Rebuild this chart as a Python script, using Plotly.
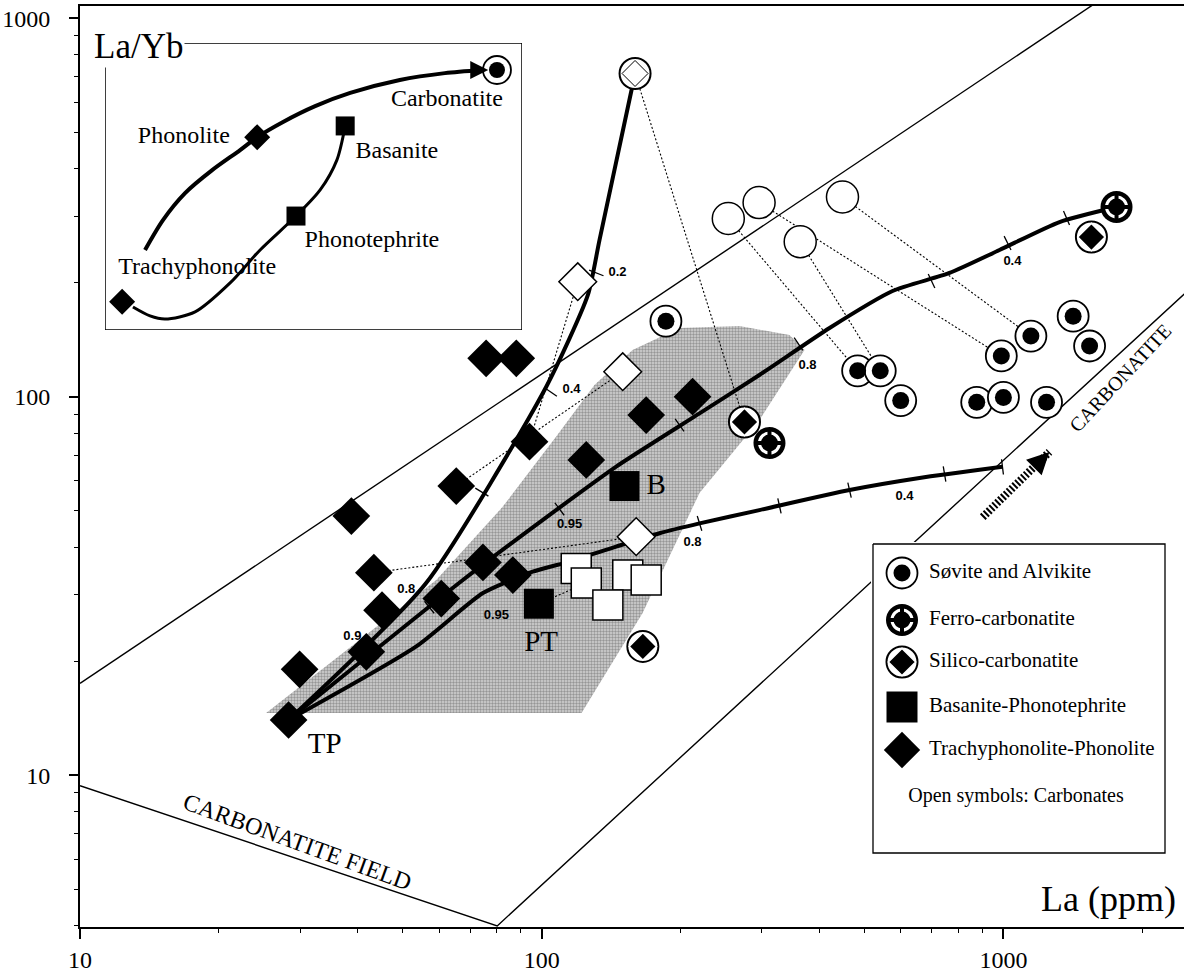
import numpy as np
import plotly.graph_objects as go

SERIF = "Liberation Serif, Times New Roman, serif"
SANS = "Liberation Sans, Arial, sans-serif"

# ---------------- sample data: La (ppm) vs La/Yb ----------------
# Trachyphonolite-Phonolite whole rocks
tp_la = [28.3, 29.9, 41.7, 45.1, 43.3, 38.7, 65.3, 94.1, 60.6, 74.6, 86.6, 124.9, 168.4, 212.2, 75.8, 88.1]
tp_layb = [14.0, 19.05, 21.2, 27.3, 34.3, 48.4, 58.1, 76.1, 29.3, 36.5, 33.8, 68.1, 89.5, 100.1, 126.4, 126.4]
# Basanite-Phonotephrite whole rocks (B, PT)
bp_la = [151.1, 98.6]
bp_layb = [58.1, 28.4]
# carbonates (open symbols)
bp_carb_la = [118.8, 124.9, 153.6, 139.1, 168.4]
bp_carb_layb = [35.2, 32.2, 33.8, 28.2, 32.8]
tp_carb_la = [119.7, 149.8, 160.2]
tp_carb_layb = [201.4, 116.5, 42.7]
sil_carb_la = [159.3]
sil_carb_layb = [714.9]
sov_carb_la = [253.6, 295.7, 363.0, 448.2]
sov_carb_layb = [295.9, 326.0, 256.9, 337.2]
# carbonatites
sov_la = [185.8, 483.4, 541.1, 599.2, 875.4, 1000.0, 1240.0, 989.7, 1147.0, 1416.0, 1537.0]
sov_layb = [158.4, 117.1, 117.1, 97.7, 96.7, 99.6, 96.7, 128.2, 144.7, 163.3, 136.2]
ferro_la = [1758.0, 311.4]
ferro_layb = [317.3, 75.5]
silico_la = [1551.0, 274.9, 165.6]
silico_layb = [264.3, 85.8, 21.9]

# tie lines carbonate -> host rock
tie_a_la = [159.3, 119.7, 149.8, 160.2, 124.9, 253.6, 295.7, 363.0, 448.2]
tie_a_layb = [714.9, 201.4, 116.5, 42.7, 32.2, 295.9, 326.0, 256.9, 337.2]
tie_b_la = [274.9, 94.1, 65.3, 43.3, 98.6, 483.4, 989.7, 541.1, 1147.0]
tie_b_layb = [85.8, 76.1, 58.1, 34.3, 28.4, 117.1, 128.2, 117.1, 144.7]

# mixing curves from TP
mix1_la = [28.3, 56.2, 102.3, 125.9, 133.4, 159.3]
mix1_layb = [14.0, 32.2, 106.3, 185.8, 259.5, 714.9]
mix2_la = [28.3, 67.5, 100.6, 145.0, 219.7, 296.2, 420.2, 575.2, 764.3, 980.6, 1323.0, 1758.0]
mix2_layb = [14.0, 32.8, 47.3, 65.4, 90.4, 114.2, 152.0, 190.3, 212.4, 244.2, 289.6, 317.3]
mix3_la = [28.3, 53.5, 74.6, 95.6, 114.9, 145.0, 179.9, 219.7, 296.2, 464.2, 658.1, 995.4]
mix3_layb = [14.0, 21.9, 30.3, 34.5, 36.7, 40.2, 43.6, 46.3, 50.2, 56.7, 61.0, 65.3]
# tick marks along the curves
tick1_la = [56.2, 74.2, 104.5, 131.3]
tick1_layb = [32.2, 56.0, 103.0, 212.4]
tick2_la = [28.3, 57.1, 109.3, 198.9, 359.9, 698.8, 1021.0, 1370.0]
tick2_layb = [14.0, 27.8, 50.5, 84.2, 137.9, 202.3, 254.8, 296.8]
tick3_la = [95.6, 119.5, 219.7, 327.3, 464.2, 745.6, 995.4]
tick3_layb = [34.5, 36.8, 46.3, 51.5, 56.7, 62.5, 65.3]
# curve fractions
frac_text = ["0.2", "0.4", "0.8", "0.9", "0.95", "0.95", "0.8", "0.4", "0.8", "0.4"]
frac_la = [146.0, 116.0, 50.9, 38.9, 114.9, 79.8, 376.5, 1046.0, 212.2, 610.6]
frac_layb = [212.4, 104.2, 30.9, 23.3, 45.9, 26.4, 120.6, 227.1, 41.1, 54.4]

# shaded field of the silicate rocks
field_la = [25.3, 122.0, 165.3, 219.7, 296.2, 370.9, 344.1, 268.2, 198.9, 157.3, 130.1, 107.5, 82.3, 59.1, 25.3]
field_layb = [14.6, 14.6, 26.8, 55.7, 86.8, 132.9, 145.7, 153.8, 152.0, 132.9, 107.5, 78.5, 51.2, 32.8, 14.6]

# carbonatite field boundaries
upper_la = [10.0, 2455.0]
upper_layb = [17.5, 1570.0]
lower_la = [10.0, 80.1, 2512.0]
lower_layb = [9.39, 4.0, 191.0]
# trend arrow (tail, head)
arrow_la = [902.0, 1258.0]
arrow_layb = [48.1, 71.5]

# rock labels
rock_text = ["TP", "PT", "B"]
rock_la = [33.9, 99.7, 177.0]
rock_layb = [12.0, 22.3, 57.9]

# ---------------- inset schematic (relative units 0-100) ----------------
ins_outer_u = [9.6, 13.9, 19.2, 25.7, 32.4, 36.5, 42.7, 50.4, 58.8, 70.7, 81.5, 90.4]
ins_outer_v = [27.9, 38.3, 47.7, 55.7, 62.7, 67.2, 72.5, 78.0, 82.6, 87.1, 89.5, 90.6]
ins_inner_u = [6.7, 10.8, 14.4, 21.6, 30.0, 37.2, 45.8, 51.6, 55.6, 57.6]
ins_inner_v = [8.0, 4.9, 3.8, 6.3, 16.4, 27.9, 39.7, 48.8, 59.2, 71.1]
ins_dia_u = [4.1, 36.5]
ins_dia_v = [9.8, 67.2]
ins_sq_u = [57.6, 45.8]
ins_sq_v = [71.1, 39.7]
ins_carb_u = [94.0]
ins_carb_v = [90.6]
ins_text = ["Carbonatite", "Phonolite", "Basanite", "Phonotephrite", "Trachyphonolite"]
ins_text_u = [82.0, 18.9, 70.0, 64.0, 22.1]
ins_text_v = [80.1, 67.2, 62.0, 31.0, 21.6]

# ---------------- legend entries ----------------
leg_labels = ["Søvite and Alvikite", "Ferro-carbonatite", "Silico-carbonatite",
              "Basanite-Phonotephrite", "Trachyphonolite-Phonolite"]
leg_rows = [29, 76, 118, 163, 206]

fig = go.Figure()


def add(x, y, xa="x", ya="y", **kw):
    fig.add_trace(go.Scatter(x=x, y=y, xaxis=xa, yaxis=ya, showlegend=False,
                             hoverinfo="skip", **kw))


def sovite(x, y, xa="x", ya="y", s=31, d=17):
    add(x, y, xa, ya, mode="markers",
        marker=dict(symbol="circle", size=s, color="white", line=dict(color="black", width=1.8)))
    add(x, y, xa, ya, mode="markers", marker=dict(symbol="circle", size=d, color="black"))


def ferro(x, y, xa="x", ya="y"):
    add(x, y, xa, ya, mode="markers", marker=dict(symbol="circle", size=32, color="black"))
    add(x, y, xa, ya, mode="markers",
        marker=dict(symbol="circle-open", size=20, color="white", line=dict(color="white", width=3)))
    add(x, y, xa, ya, mode="markers",
        marker=dict(symbol="cross-thin-open", size=20, color="black", line=dict(color="black", width=4)))


def silico(x, y, xa="x", ya="y", open_=False):
    add(x, y, xa, ya, mode="markers",
        marker=dict(symbol="circle", size=31, color="white", line=dict(color="black", width=2)))
    if open_:
        add(x, y, xa, ya, mode="markers",
            marker=dict(symbol="diamond", size=20, color="white", line=dict(color="black", width=1)))
    else:
        add(x, y, xa, ya, mode="markers",
            marker=dict(symbol="diamond", size=21, color="black", line=dict(color="white", width=1.5)))


# shaded field
add(field_la, field_layb, mode="lines", fill="toself", line=dict(width=0),
    fillcolor="#bdbdbd",
    fillpattern=dict(shape=".", fgcolor="#5a5a5a", bgcolor="#d2d2d2", size=3, solidity=0.5))

# field boundaries
add(upper_la, upper_layb, mode="lines", line=dict(color="black", width=1.4))
add(lower_la, lower_layb, mode="lines", line=dict(color="black", width=1.4))

# tie lines
tx, ty = [], []
for a, b, c, d in zip(tie_a_la, tie_a_layb, tie_b_la, tie_b_layb):
    tx += [a, c, None]
    ty += [b, d, None]
add(tx, ty, mode="lines", line=dict(color="black", width=1.1, dash="2px,2px"))

# mixing curves
for cx, cy in [(mix1_la, mix1_layb), (mix2_la, mix2_layb), (mix3_la, mix3_layb)]:
    add(cx, cy, mode="lines", line=dict(color="black", width=4, shape="spline", smoothing=0.6))
for kx, ky in [(tick1_la, tick1_layb), (tick2_la, tick2_layb), (tick3_la, tick3_layb)]:
    add(kx, ky, mode="markers",
        marker=dict(symbol="line-ew-open", size=11, color="black", angleref="previous",
                    line=dict(color="black", width=1.3)))

# hatched trend arrow shaft
add(arrow_la, arrow_layb, mode="lines", line=dict(color="black", width=8, dash="2px,2px"))

# samples
add(tp_la, tp_layb, mode="markers", marker=dict(symbol="diamond", size=29, color="black"))
add(bp_la, bp_layb, mode="markers", marker=dict(symbol="square", size=30, color="black"))
add(bp_carb_la, bp_carb_layb, mode="markers",
    marker=dict(symbol="square", size=30, color="white", line=dict(color="black", width=1.5)))
add(tp_carb_la, tp_carb_layb, mode="markers",
    marker=dict(symbol="diamond", size=29, color="white", line=dict(color="black", width=1.5)))
add(sov_carb_la, sov_carb_layb, mode="markers",
    marker=dict(symbol="circle", size=32, color="white", line=dict(color="black", width=1.5)))
silico(sil_carb_la, sil_carb_layb, open_=True)
sovite(sov_la, sov_layb)
ferro(ferro_la, ferro_layb)
silico(silico_la, silico_layb)

# curve fraction labels and rock labels
add(frac_la, frac_layb, mode="text", text=["<b>%s</b>" % t for t in frac_text],
    textfont=dict(family=SANS, size=13, color="black"))
add(rock_la, rock_layb, mode="text", text=rock_text,
    textfont=dict(family=SERIF, size=29, color="black"))

# ---------------- inset ----------------
add([0, 100, 100, 0, 0], [0, 0, 100, 100, 0], "x2", "y2", mode="lines",
    fill="toself", fillcolor="white", line=dict(color="black", width=1.5))
add(ins_outer_u, ins_outer_v, "x2", "y2", mode="lines",
    line=dict(color="black", width=4, shape="spline", smoothing=0.8))
add(ins_inner_u, ins_inner_v, "x2", "y2", mode="lines",
    line=dict(color="black", width=3, shape="spline", smoothing=0.8))
add(ins_dia_u, ins_dia_v, "x2", "y2", mode="markers",
    marker=dict(symbol="diamond", size=20, color="black"))
add(ins_sq_u, ins_sq_v, "x2", "y2", mode="markers",
    marker=dict(symbol="square", size=19, color="black"))
sovite(ins_carb_u, ins_carb_v, "x2", "y2", s=28, d=16)
add(ins_text_u, ins_text_v, "x2", "y2", mode="text", text=ins_text,
    textfont=dict(family=SERIF, size=24, color="black"))

# ---------------- legend ----------------
add([0, 292, 292, 0, 0], [0, 0, 309, 309, 0], "x3", "y3", mode="lines",
    fill="toself", fillcolor="white", line=dict(color="black", width=1.3))
sx = [29]
sovite(sx, [leg_rows[0]], "x3", "y3")
ferro(sx, [leg_rows[1]], "x3", "y3")
silico(sx, [leg_rows[2]], "x3", "y3")
add(sx, [leg_rows[3]], "x3", "y3", mode="markers", marker=dict(symbol="square", size=31, color="black"))
add(sx, [leg_rows[4]], "x3", "y3", mode="markers", marker=dict(symbol="diamond", size=28, color="black"))
add([56] * 5, leg_rows, "x3", "y3", mode="text", text=leg_labels, textposition="middle right",
    textfont=dict(family=SERIF, size=21, color="black"))
add([143], [253], "x3", "y3", mode="text", text=["Open symbols: Carbonates"],
    textfont=dict(family=SERIF, size=20, color="black"))

# ---------------- layout ----------------
W, H = 1184, 973
L, R, T, B = 80, 0, 6, 46
pw, ph = W - L - R, H - T - B


def px_dom_x(a, b):
    return [(a - L) / pw, (b - L) / pw]


def px_dom_y(top, bot):
    return [(H - B - bot) / ph, (H - B - top) / ph]


axis_font = dict(family=SERIF, size=24, color="black")
fig.update_layout(
    width=W, height=H, margin=dict(l=L, r=R, t=T, b=B),
    paper_bgcolor="white", plot_bgcolor="white", showlegend=False,
    xaxis=dict(type="log", range=[1, 1 + pw / 461.7], showline=True, linecolor="black", linewidth=2,
               mirror=True, ticks="outside", ticklen=10, tickwidth=1.5, tickcolor="black",
               tickvals=[10, 100, 1000], ticktext=["10", "100", "1000"], tickfont=axis_font,
               showgrid=False, zeroline=False,
               minor=dict(ticks="outside", ticklen=4, tickwidth=1, tickcolor="black",
                          tickvals=[20, 30, 40, 50, 60, 70, 80, 90, 200, 300, 400, 500, 600, 700, 800, 900, 2000],
                          showgrid=False)),
    yaxis=dict(type="log", range=[0.5992, 3.0325], showline=True, linecolor="black", linewidth=2,
               ticks="outside", ticklen=9, tickwidth=1.5, tickcolor="black",
               tickvals=[10, 100, 1000], ticktext=["10", "100", "1000"], tickfont=axis_font,
               showgrid=False, zeroline=False, ticklabelstandoff=14,
               minor=dict(ticks="outside", ticklen=4, tickwidth=1, tickcolor="black",
                          tickvals=[4, 5, 6, 7, 8, 9, 20, 30, 40, 50, 60, 70, 80, 90,
                                    200, 300, 400, 500, 600, 700, 800, 900],
                          showgrid=False)),
    xaxis2=dict(domain=px_dom_x(105, 522), range=[0, 100], visible=False, anchor="y2"),
    yaxis2=dict(domain=px_dom_y(43, 330), range=[0, 100], visible=False, anchor="x2"),
    xaxis3=dict(domain=px_dom_x(871, 1167), range=[-2, 294], visible=False, anchor="y3"),
    yaxis3=dict(domain=px_dom_y(542, 855), range=[311, -2], visible=False, anchor="x3"),
    annotations=[
        dict(text="La/Yb", xref="paper", yref="paper", x=(92 - L) / pw, y=(H - B - 46) / ph,
             xanchor="left", yanchor="middle", showarrow=False, bgcolor="white", borderpad=1,
             font=dict(family=SERIF, size=35, color="black")),
        dict(text="La (ppm)", xref="paper", yref="paper", x=(1178 - L) / pw, y=(H - B - 899) / ph,
             xanchor="right", yanchor="middle", showarrow=False,
             font=dict(family=SERIF, size=36, color="black")),
        dict(text="CARBONATITE FIELD", xref="x", yref="y", x=np.log10(29.6), y=np.log10(6.66),
             textangle=20, showarrow=False, font=dict(family=SERIF, size=24, color="black")),
        dict(text="CARBONATITE", xref="x", yref="y", x=np.log10(1790.0), y=np.log10(112.0),
             textangle=-47, showarrow=False, font=dict(family=SERIF, size=20, color="black")),
        # arrowhead of the trend arrow
        dict(text="", xref="x", yref="y", x=np.log10(arrow_la[1]), y=np.log10(arrow_layb[1]),
             ax=-12, ay=12, showarrow=True, arrowhead=2, arrowsize=2.2, arrowwidth=2,
             arrowcolor="black"),
        # arrowhead of the inset evolution curve
        dict(text="", xref="x2", yref="y2", x=ins_outer_u[-1] + 1.5, y=ins_outer_v[-1],
             ax=-12, ay=0, showarrow=True, arrowhead=2, arrowsize=1.2, arrowwidth=3,
             arrowcolor="black"),
    ],
)

fig.write_html("out.html")
